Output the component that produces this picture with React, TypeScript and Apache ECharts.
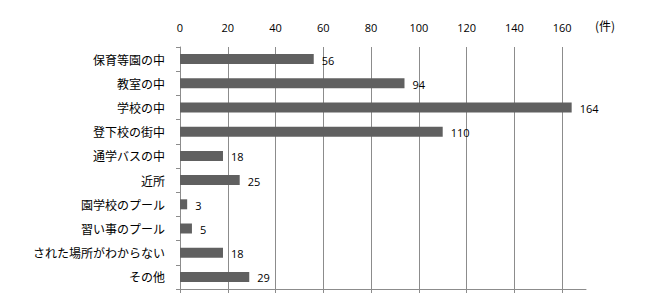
import React, { useEffect, useRef } from "react";
import * as echarts from "echarts";

const categories = [
  "保育等園の中",
  "教室の中",
  "学校の中",
  "登下校の街中",
  "通学バスの中",
  "近所",
  "園学校のプール",
  "習い事のプール",
  "された場所がわからない",
  "その他",
];
const values = [56, 94, 164, 110, 18, 25, 3, 5, 18, 29];
const tickValues = [0, 20, 40, 60, 80, 100, 120, 140, 160];
const unitLabel = "(件)";

export default function App() {
  const ref = useRef<HTMLDivElement>(null);
  useEffect(() => {
    if (!ref.current) return;
    const chart = echarts.init(ref.current, undefined, { renderer: "svg" });
    const numFont = "'Open Sans', 'Noto Sans', sans-serif";
    chart.setOption({
      animation: false,
      backgroundColor: "#ffffff",
      grid: { left: 180, top: 47, width: 406, height: 242, containLabel: false },
      graphic: [
        {
          type: "text",
          left: 595,
          top: 19,
          style: {
            text: unitLabel,
            fontSize: 12,
            fontFamily: "'Noto Sans CJK JP', sans-serif",
            fill: "#000",
          },
        },
      ],
      xAxis: [
        {
          type: "value",
          position: "top",
          min: 0,
          max: 170,
          interval: 20,
          axisLine: { show: false },
          axisTick: { show: false },
          axisLabel: {
            show: true,
            customValues: tickValues,
            margin: 14,
            fontSize: 11,
            fontFamily: numFont,
            color: "#000",
          },
          splitLine: {
            show: true,
            showMinLine: false,
            showMaxLine: false,
            lineStyle: { color: "#8c8c8c", width: 1 },
          },
        },
        {
          type: "value",
          position: "bottom",
          min: 0,
          max: 170,
          interval: 20,
          axisLine: { show: true, lineStyle: { color: "#8c8c8c", width: 1 } },
          axisTick: {
            show: true,
            length: 4,
            customValues: tickValues,
            lineStyle: { color: "#8c8c8c", width: 1 },
          },
          axisLabel: { show: false },
          splitLine: { show: false },
        },
      ],
      yAxis: {
        type: "category",
        data: categories,
        inverse: true,
        axisLine: { show: true, lineStyle: { color: "#8c8c8c", width: 1 } },
        axisTick: { show: true, length: 4, lineStyle: { color: "#8c8c8c" } },
        axisLabel: {
          margin: 15,
          fontSize: 12,
          fontFamily: "'Noto Sans CJK JP', sans-serif",
          color: "#000",
        },
        splitLine: { show: false },
      },
      series: [
        {
          type: "bar",
          xAxisIndex: 0,
          data: values,
          barWidth: 10,
          itemStyle: { color: "#606060" },
          label: {
            show: true,
            position: "right",
            distance: 8,
            fontSize: 11,
            fontFamily: numFont,
            color: "#000",
            offset: [0, 1],
          },
        },
      ],
    });
    return () => chart.dispose();
  }, []);
  return (
    <div
      ref={ref}
      style={{ position: "fixed", left: 0, top: 0, width: 645, height: 305 }}
    />
  );
}
